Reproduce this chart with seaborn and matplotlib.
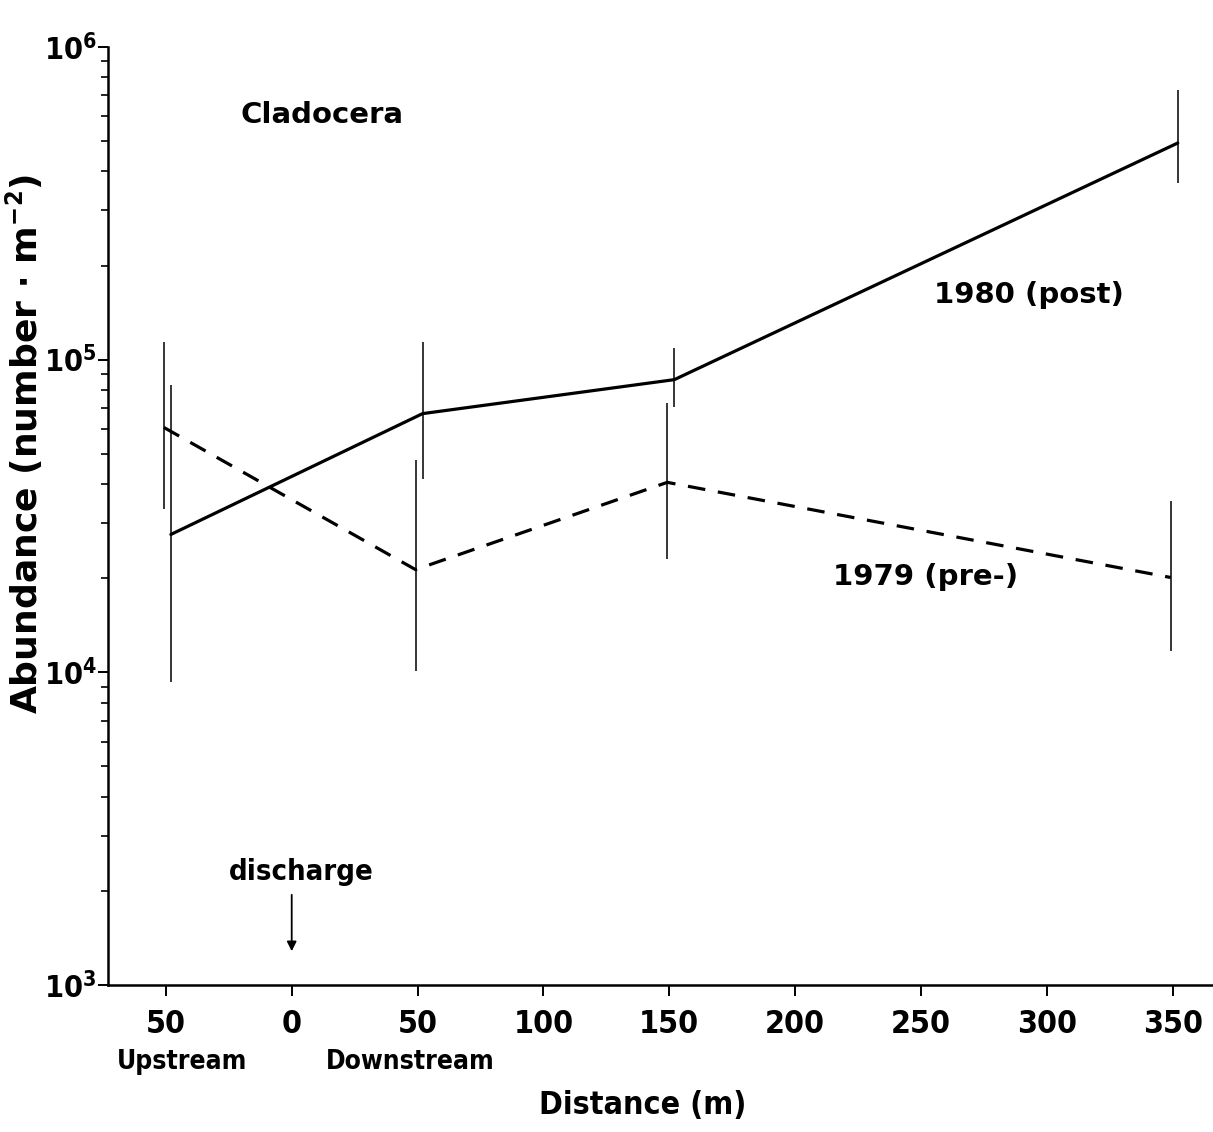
import matplotlib
matplotlib.use("Agg")
import numpy as np
import pandas as pd
import matplotlib.pyplot as plt
import seaborn as sns

# ==========================================
# DATA
# ==========================================

distance = [-50, 50, 150, 350]

post_1980 = [27600, 67200, 86300, 493000]
post_1980_low = [9300, 41400, 70800, 367000]
post_1980_high = [83200, 114000, 109000, 730000]

pre_1979 = [60700, 21300, 40500, 20100]
pre_1979_low = [33200, 10100, 23000, 11700]
pre_1979_high = [114000, 47900, 72900, 35200]

x_ticks = [-50, 0, 50, 100, 150, 200, 250, 300, 350]
x_tick_labels = ["50", "0", "50", "100", "150", "200", "250", "300", "350"]
y_ticks = [1e3, 1e4, 1e5, 1e6]
y_tick_labels = [r"$\mathbf{10^{3}}$", r"$\mathbf{10^{4}}$",
                 r"$\mathbf{10^{5}}$", r"$\mathbf{10^{6}}$"]

# small horizontal shift so the two error bars don't overlap
shift = {"1980 (post)": 2.0, "1979 (pre-)": -0.8}

# ==========================================
# BUILD TABLE
# ==========================================

rows = []
for year, vals, lo, hi in [("1980 (post)", post_1980, post_1980_low, post_1980_high),
                           ("1979 (pre-)", pre_1979, pre_1979_low, pre_1979_high)]:
    for d, v, l, h in zip(distance, vals, lo, hi):
        rows.append({"x": d + shift[year], "year": year,
                     "abundance": v, "low": l, "high": h})
df = pd.DataFrame(rows)

# ==========================================
# PLOT
# ==========================================

sns.set_theme(style="ticks")
plt.rcParams["font.family"] = ["DejaVu Sans"]
plt.rcParams["text.color"] = "black"
plt.rcParams["axes.labelcolor"] = "black"
plt.rcParams["mathtext.fontset"] = "custom"
plt.rcParams["mathtext.rm"] = "DejaVu Sans:weight=bold:stretch=condensed"
plt.rcParams["mathtext.bf"] = "DejaVu Sans:weight=bold:stretch=condensed"

fig = plt.figure(figsize=(12.13, 11.32), dpi=100)
ax = fig.add_axes([0.089, 0.1299, 0.911, 0.8286])

sns.lineplot(
    data=df, x="x", y="abundance", style="year",
    dashes={"1980 (post)": "", "1979 (pre-)": (5.5, 4)},
    color="black", linewidth=2.3, estimator=None, sort=False,
    legend=False, ax=ax
)
ax.vlines(df["x"], df["low"], df["high"], color="black", linewidth=1.1)

ax.set_yscale("log")
ax.set_ylim(1e3, 1e6)
ax.set_xlim(-73, 366)
sns.despine(ax=ax)
for s in ["left", "bottom"]:
    ax.spines[s].set_linewidth(1.8)
    ax.spines[s].set_color("black")

ax.set_xticks(x_ticks)
ax.set_xticklabels(x_tick_labels, fontsize=23, fontweight="bold",
                   fontstretch="condensed")
ax.set_yticks(y_ticks)
ax.set_yticklabels(y_tick_labels, fontsize=22)
ax.tick_params(axis="x", length=8, width=1.4, pad=9, colors="black")
ax.tick_params(axis="y", which="major", length=7, width=1.4, pad=1, colors="black")
ax.tick_params(axis="y", which="minor", length=5, width=1.2, colors="black")

ax.set_xlabel("Distance (m)", fontsize=23, fontweight="bold",
              fontstretch="condensed")
ax.xaxis.set_label_coords(0.484, -0.112)
ax.set_ylabel(r"Abundance (number $\cdot$ m$^{-2}$)",
              fontsize=26, fontweight="bold")
ax.yaxis.set_label_coords(-0.057, 0.577)

# annotations
ax.text(12, 6.07e5, "Cladocera", fontsize=21, fontweight="bold",
        ha="center", va="center")
ax.text(292.8, 1.61e5, "1980 (post)", fontsize=21, fontweight="bold",
        ha="center", va="center")
ax.text(251.9, 2.01e4, "1979 (pre-)", fontsize=21, fontweight="bold",
        ha="center", va="center")
ax.text(3.6, 2296, "discharge", fontsize=21, fontweight="bold",
        fontstretch="condensed", ha="center", va="center")
ax.annotate("", xy=(0, 1256), xytext=(0, 1982),
            arrowprops=dict(arrowstyle="-|>", color="black", lw=1.3,
                            mutation_scale=14))

fig.text(182 / 1213, 1 - 1062 / 1132, "Upstream", fontsize=19,
         fontweight="bold", fontstretch="condensed", ha="center", va="center")
fig.text(410 / 1213, 1 - 1062 / 1132, "Downstream", fontsize=19,
         fontweight="bold", fontstretch="condensed", ha="center", va="center")

fig.savefig("out.png", dpi=100, facecolor="white")
